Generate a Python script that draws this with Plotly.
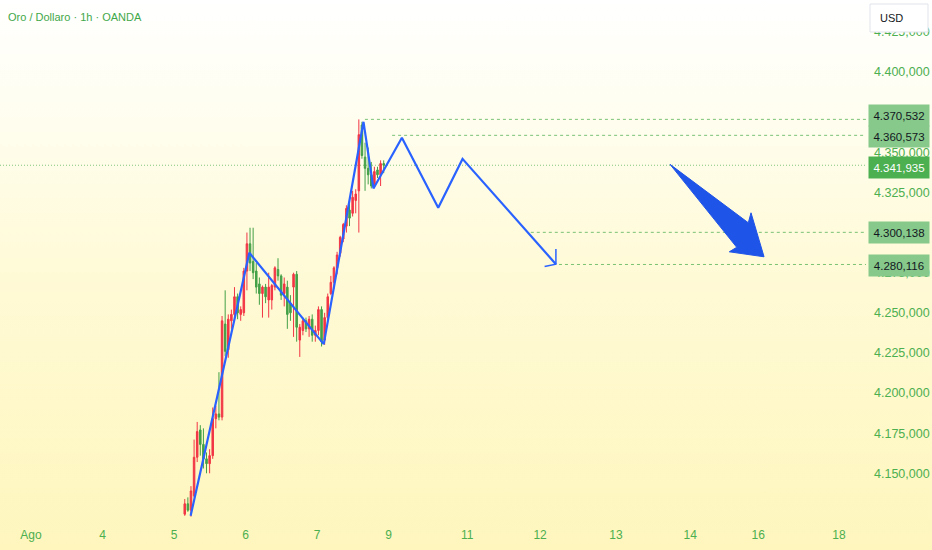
import base64
import plotly.graph_objects as go

# ---------------- data ----------------
title_text = "Oro / Dollaro · 1h · OANDA"
x_tick_pos = [3, 4, 5, 6, 7, 8, 9.1, 10.12, 11.18, 12.22, 13.17, 14.3]
x_tick_labels = ["Ago", "4", "5", "6", "7", "9", "11", "12", "13", "14", "16", "18"]
# ticks 4.375 and 4.300 sit fully behind the price-label boxes, so they are left out
y_tick_vals = [4150, 4175, 4200, 4225, 4250, 4275, 4325, 4350, 4400, 4425]

first_bar = 5.15          # position of first hourly bar (day units)
bar_step = 1 / 23         # one hourly bar

opens = [4124.5, 4131, 4127, 4136, 4160, 4177, 4168, 4159, 4156, 4161,
         4184, 4187, 4185, 4243, 4227, 4245, 4249, 4260, 4249, 4250,
         4276, 4293, 4282, 4276, 4268, 4262, 4266, 4258, 4258, 4266,
         4277, 4273, 4262, 4266, 4256, 4266, 4274, 4233, 4239, 4245,
         4240, 4246, 4236, 4239, 4252, 4233, 4247, 4262, 4269, 4278,
         4287, 4296, 4304, 4314, 4312, 4320, 4326, 4367, 4347, 4340,
         4336, 4329, 4339, 4336, 4343]
highs = [4134, 4135, 4142, 4171, 4182, 4180, 4178, 4163, 4165, 4191,
         4192, 4213, 4248, 4264, 4249, 4252, 4266, 4262, 4254, 4278,
         4300, 4303, 4303, 4281, 4272, 4267, 4268, 4275, 4268, 4279,
         4284, 4274, 4272, 4270, 4261, 4275, 4276, 4243, 4247, 4247,
         4248, 4249, 4242, 4254, 4254, 4250, 4262, 4273, 4279, 4288,
         4298, 4306, 4317, 4318, 4326, 4327, 4370.5, 4369, 4356, 4353,
         4344, 4341, 4341, 4345, 4345]
lows = [4123.5, 4126, 4123, 4135, 4157, 4161, 4153, 4150, 4150, 4159,
        4178, 4183, 4183, 4223, 4222, 4240, 4246, 4246, 4245, 4248,
        4264, 4276, 4271, 4262, 4255, 4247, 4256, 4247, 4252, 4264,
        4270, 4258, 4254, 4240, 4245, 4235, 4232, 4222.5, 4236, 4238,
        4235, 4232, 4232, 4236, 4229, 4230, 4245, 4261, 4265, 4274,
        4285, 4294, 4300, 4304, 4310, 4312, 4300, 4346, 4326, 4330,
        4327.5, 4328, 4334, 4329, 4337]
closes = [4131, 4127, 4139, 4160, 4176, 4168, 4159, 4156, 4161, 4184,
          4187, 4185, 4245, 4226, 4246, 4249, 4260, 4250, 4252, 4276,
          4293, 4281, 4275, 4266, 4262, 4266, 4260, 4266, 4267, 4278,
          4273, 4261, 4268, 4249, 4250, 4274, 4241, 4241, 4245, 4240,
          4246, 4236, 4239, 4252, 4232, 4247, 4260, 4269, 4278, 4286,
          4297, 4305, 4315, 4309, 4322, 4324, 4361, 4348, 4340, 4336,
          4329, 4338, 4336, 4343, 4341.935]

zigzag_x = [5.232, 6.053, 7.094, 7.650, 7.789, 8.187, 8.695, 9.035, 10.341]
zigzag_y = [4123.5, 4287.4, 4230.5, 4369.0, 4327.5, 4359.1, 4315.5, 4345.9, 4280.3]
head_x = [10.183, 10.341, 10.341]
head_y = [4278.8, 4280.3, 4289.7]

arrow_x = [11.937, 13.032, 13.070, 13.252, 12.766, 12.870]
arrow_y = [4342.5, 4306.1, 4312.3, 4284.9, 4288.0, 4290.8]

level_values = [4370.532, 4360.573, 4300.138, 4280.116]
level_start = [7.67, 8.05, 9.99, 10.30]
last_price = 4341.935

# ---------------- styling ----------------
X_RANGE = [2.566, 14.678]
Y_RANGE = [4120.9, 4444.9]
RED = "#f23645"
GREEN = "#43a047"
BLUE = "#2962ff"
AXIS_GREEN = "#4caf50"
FONT = "Liberation Sans, Arial, sans-serif"


def it_fmt(v):
    return f"{v:,.3f}".replace(",", "X").replace(".", ",").replace("X", ".")


xs = [first_bar + i * bar_step for i in range(len(opens))]

fig = go.Figure()

fig.add_trace(go.Candlestick(
    x=xs, open=opens, high=highs, low=lows, close=closes,
    increasing=dict(line=dict(color=RED, width=1), fillcolor=RED),
    decreasing=dict(line=dict(color=GREEN, width=1), fillcolor=GREEN),
    whiskerwidth=0, hoverinfo="skip", showlegend=False,
))

fig.add_trace(go.Scatter(x=zigzag_x, y=zigzag_y, mode="lines",
                         line=dict(color=BLUE, width=2.2), hoverinfo="skip",
                         showlegend=False))
fig.add_trace(go.Scatter(x=head_x, y=head_y, mode="lines",
                         line=dict(color=BLUE, width=1.5), hoverinfo="skip",
                         showlegend=False))
fig.add_trace(go.Scatter(x=arrow_x + [arrow_x[0]], y=arrow_y + [arrow_y[0]],
                         mode="lines", fill="toself", fillcolor="#1f54e8",
                         line=dict(color="#1f54e8", width=1), hoverinfo="skip",
                         showlegend=False))

shapes = []
for v, s in zip(level_values, level_start):
    shapes.append(dict(type="line", xref="x", yref="y", x0=s, x1=X_RANGE[1],
                       y0=v, y1=v, layer="below",
                       line=dict(color="rgba(76,175,80,0.75)", width=1, dash="3px,3px")))
shapes.append(dict(type="line", xref="x", yref="y", x0=X_RANGE[0], x1=X_RANGE[1],
                   y0=last_price, y1=last_price, layer="below",
                   line=dict(color="rgba(76,175,80,0.7)", width=1, dash="1px,2px")))
# USD box
shapes.append(dict(type="rect", xref="paper", yref="paper",
                   x0=870 / 866, x1=928 / 866, y0=1 - 32 / 520, y1=1 - 4 / 520,
                   fillcolor="white", line=dict(color="#e0e3eb", width=1), layer="above"))

annotations = [
    dict(text=title_text, xref="paper", yref="paper", x=0, y=1, xanchor="left",
         yanchor="middle", xshift=6, yshift=-17, showarrow=False,
         font=dict(family=FONT, size=11, color="#3fa84a")),
    dict(text="USD", xref="paper", yref="paper", x=1, y=1, xanchor="left",
         yanchor="middle", xshift=12, yshift=-18, showarrow=False,
         font=dict(family=FONT, size=11, color="#131722")),
]
label_shift = [4, -1, 0, -1.5]
for v, sh in zip(level_values, label_shift):
    annotations.append(dict(
        text=it_fmt(v),
        xref="paper", yref="y", x=1, y=v, xanchor="left", yanchor="middle",
        xshift=2, yshift=sh, showarrow=False, width=60, height=21, borderpad=0,
        bgcolor="#86c98a", align="center",
        font=dict(family=FONT, size=11.5, color="#131722")))
annotations.append(dict(
    text=it_fmt(last_price),
    xref="paper", yref="y", x=1, y=last_price, xanchor="left", yanchor="middle",
    xshift=2, yshift=-2, showarrow=False, width=60, height=21, borderpad=0,
    bgcolor="#4caf50", align="center",
    font=dict(family=FONT, size=11.5, color="white")))

svg = ('<svg xmlns="http://www.w3.org/2000/svg" width="932" height="550">'
       '<defs><linearGradient id="g" x1="0" y1="0" x2="0" y2="1">'
       '<stop offset="0" stop-color="#ffffff"/>'
       '<stop offset="0.18" stop-color="#fffef2"/>'
       '<stop offset="0.5" stop-color="#fffad6"/>'
       '<stop offset="1" stop-color="#fef6bd"/>'
       '</linearGradient></defs>'
       '<rect width="932" height="550" fill="url(#g)"/></svg>')
bg_src = "data:image/svg+xml;base64," + base64.b64encode(svg.encode()).decode()

fig.update_layout(
    width=932, height=550,
    margin=dict(l=0, r=66, t=0, b=30),
    paper_bgcolor="#fffbe0",
    plot_bgcolor="rgba(0,0,0,0)",
    separators=",.",
    showlegend=False,
    shapes=shapes,
    annotations=annotations,
    images=[dict(source=bg_src, xref="paper", yref="paper", x=0, y=1,
                 sizex=932 / 866, sizey=550 / 520, xanchor="left", yanchor="top",
                 sizing="stretch", layer="below")],
    xaxis=dict(range=X_RANGE, showgrid=False, zeroline=False, showline=False,
               tickmode="array", tickvals=x_tick_pos, ticktext=x_tick_labels,
               ticks="", ticklabelstandoff=6,
               tickfont=dict(family=FONT, size=12, color=AXIS_GREEN),
               rangeslider=dict(visible=False), fixedrange=True),
    yaxis=dict(range=Y_RANGE, side="right", showgrid=False, zeroline=False,
               showline=False, tickmode="array", tickvals=y_tick_vals,
               tickformat=",.3f", ticks="", ticklabelstandoff=7,
               tickfont=dict(family=FONT, size=12.5, color=AXIS_GREEN),
               fixedrange=True),
)

fig.write_html("out.html", config={"displayModeBar": False},
               post_script="document.body.style.margin='0';document.body.style.overflow='hidden';")
